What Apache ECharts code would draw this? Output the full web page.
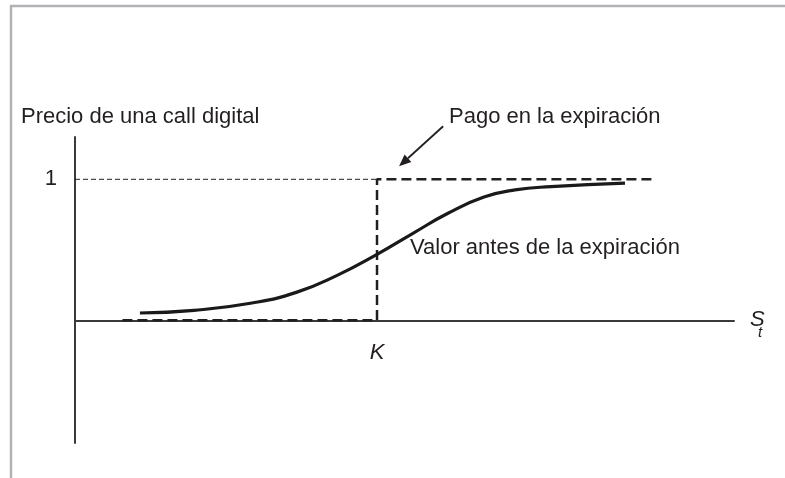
<!DOCTYPE html>
<html>
<head>
<meta charset="utf-8">
<script src="https://cdn.jsdelivr.net/npm/echarts@6/dist/echarts.min.js"></script>
<style>
    html, body { margin: 0; padding: 0; background: #fff; }
    #chart { width: 785px; height: 478px; }
</style>
</head>
<body>
<div id="chart"></div>
<script>
    // valores (K = 100, pago = 1)
    const strikeK = 100;
    const curveX = [21.5, 39.4, 58.6, 73.5, 86.8, 100, 111.9, 123.5, 135.4, 145.7, 157.6, 182.1];
    const curveY = [0.052, 0.071, 0.123, 0.2, 0.319, 0.468, 0.617, 0.759, 0.874, 0.925, 0.948, 0.973];
    const payoffX = [15.7, 100, 100, 192.4];
    const payoffY = [0, 0, 1, 1];
    const guideX = [0, 100];
    const guideY = [1, 1];
    const yTickLabels = [1];
    const arrowFrom = [121.9, 1.376];
    const arrowTo = [107.3, 1.092];

    const ink = '#231f20';
    const font = "'Liberation Sans', Arial, Helvetica, sans-serif";

    const chart = echarts.init(document.getElementById('chart'));

    const zip = (xs, ys) => xs.map((x, i) => [x, ys[i]]);

    const option = {
        animation: false,
        backgroundColor: '#fff',
        grid: { left: 75, right: 51, top: 137, bottom: 35 },
        xAxis: {
            type: 'value',
            min: 0,
            max: 218.2,
            splitLine: { show: false },
            axisTick: { show: false },
            axisLine: { onZero: true, lineStyle: { color: '#3a3a3a', width: 2 } },
            axisLabel: { show: false }
        },
        yAxis: {
            type: 'value',
            min: -0.87,
            max: 1.3,
            splitLine: { show: false },
            axisTick: { show: false },
            axisLine: { onZero: false, lineStyle: { color: '#3a3a3a', width: 2 } },
            axisLabel: {
                customValues: yTickLabels,
                formatter: v => String(v),
                color: ink,
                fontFamily: font,
                fontSize: 22,
                margin: 18,
                padding: [16, 0, 0, 0]
            }
        },
        series: [
            {
                // línea guía fina hasta el pago 1
                type: 'line',
                data: zip(guideX, guideY),
                symbol: 'none',
                lineStyle: { color: ink, width: 1, type: [5, 3] }
            },
            {
                // pago en la expiración
                type: 'line',
                data: zip(payoffX, payoffY),
                symbol: 'none',
                lineStyle: { color: ink, width: 2.5, type: [10, 5] }
            },
            {
                // valor antes de la expiración
                type: 'line',
                data: zip(curveX, curveY),
                smooth: true,
                symbol: 'none',
                lineStyle: { color: '#1a1a1a', width: 3.2 }
            }
        ]
    };
    chart.setOption(option);

    // flecha y textos
    const p0 = chart.convertToPixel({ gridIndex: 0 }, arrowFrom);
    const p1 = chart.convertToPixel({ gridIndex: 0 }, arrowTo);
    const pk = chart.convertToPixel({ gridIndex: 0 }, [strikeK, 0]);
    const dx = p1[0] - p0[0], dy = p1[1] - p0[1];
    const len = Math.sqrt(dx * dx + dy * dy);
    const ux = dx / len, uy = dy / len;
    const head = 12, half = 5;
    const bx = p1[0] - ux * head, by = p1[1] - uy * head;

    const textStyle = (text, x, y, extra) => Object.assign({
        type: 'text',
        x: x,
        y: y,
        style: Object.assign({
            text: text,
            fill: ink,
            font: '22px ' + font,
            verticalAlign: 'middle'
        }, extra || {})
    });

    chart.setOption({
        graphic: [
            {
                type: 'polyline',
                shape: { points: [[11, 478], [11, 6], [785, 6]] },
                style: { stroke: '#b2b2b6', lineWidth: 2.5, fill: null }
            },
            textStyle('Precio de una call digital', 21, 117),
            textStyle('Pago en la expiración', 449, 117),
            textStyle('Valor antes de la expiración', 410, 248),
            textStyle('K', pk[0], pk[1] + 33, { font: 'italic 22px ' + font, align: 'center' }),
            textStyle('S', 750, 320, { font: 'italic 22px ' + font }),
            textStyle('t', 758, 333, { font: 'italic 15px ' + font }),
            {
                type: 'line',
                shape: { x1: p0[0], y1: p0[1], x2: bx, y2: by },
                style: { stroke: ink, lineWidth: 1.8 }
            },
            {
                type: 'polygon',
                shape: {
                    points: [
                        [p1[0], p1[1]],
                        [bx - uy * half, by + ux * half],
                        [bx + uy * half, by - ux * half]
                    ]
                },
                style: { fill: ink }
            }
        ]
    });
</script>
</body>
</html>
